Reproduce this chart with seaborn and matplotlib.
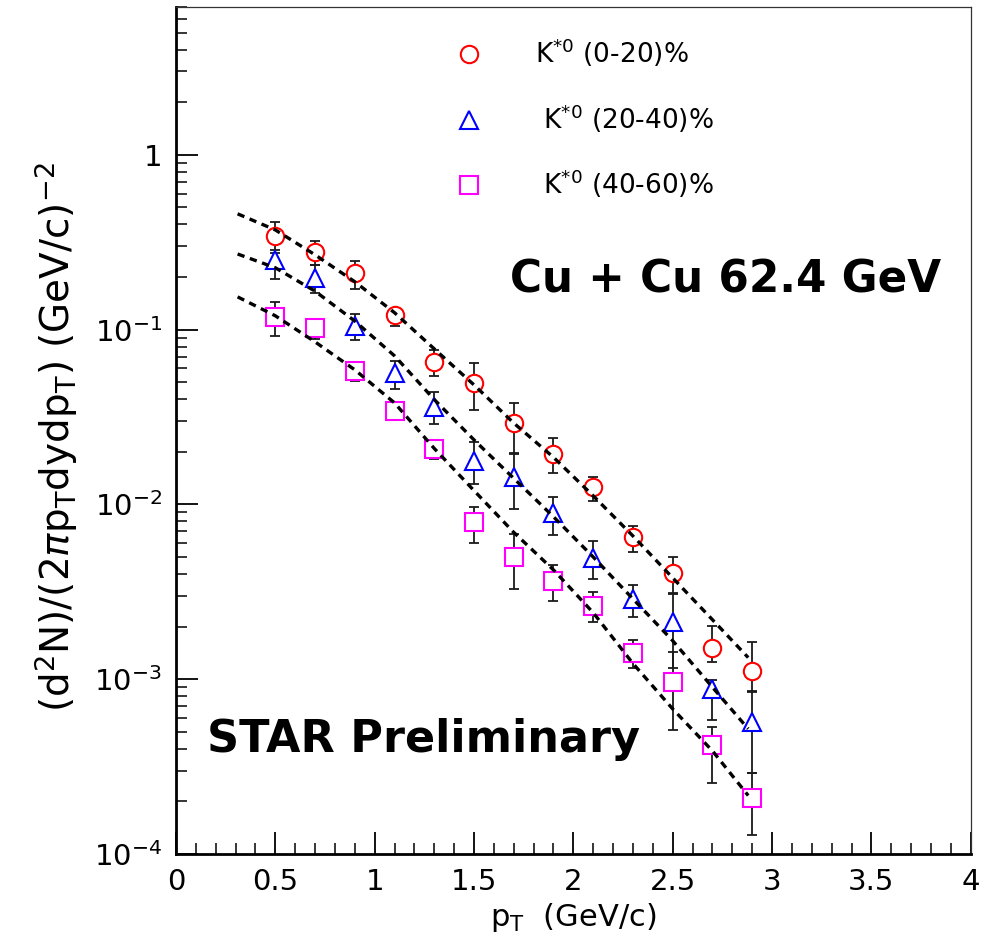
import matplotlib
matplotlib.use("Agg")
import numpy as np
import matplotlib.pyplot as plt
from matplotlib.ticker import FixedLocator, FixedFormatter, MultipleLocator, LogLocator, NullFormatter
import seaborn as sns

sns.set_style("ticks")
plt.rcParams['font.family'] = ['DejaVu Sans']
plt.rcParams['mathtext.fontset'] = 'dejavusans'
for key in ['text.color', 'axes.labelcolor', 'xtick.color', 'ytick.color', 'axes.edgecolor']:
    plt.rcParams[key] = 'black'

# ---- data ----
pt = np.array([0.5, 0.7, 0.9, 1.1, 1.3, 1.5, 1.7, 1.9, 2.1, 2.3, 2.5, 2.7, 2.9])

y_0_20 = np.array([0.344, 0.279, 0.211, 0.121, 0.0654, 0.0496, 0.0293, 0.0195, 0.0126, 0.00652, 0.00406, 0.00151, 0.00111])
hi_0_20 = np.array([0.414, 0.322, 0.247, 0.130, 0.0766, 0.0645, 0.0381, 0.0240, 0.0144, 0.00753, 0.00501, 0.00202, 0.00163])
lo_0_20 = np.array([0.286, 0.235, 0.171, 0.105, 0.0544, 0.0347, 0.0195, 0.0151, 0.0105, 0.00535, 0.00312, 0.00126, 0.000857])

y_20_40 = np.array([0.251, 0.198, 0.105, 0.0566, 0.0361, 0.0177, 0.0144, 0.00894, 0.00494, 0.00288, 0.00213, 0.000879, 0.000569])
hi_20_40 = np.array([0.275, 0.235, 0.123, 0.0663, 0.0440, 0.0228, 0.0197, 0.0110, 0.00618, 0.00346, 0.00307, 0.00099, 0.000845])
lo_20_40 = np.array([0.195, 0.162, 0.0874, 0.0458, 0.0289, 0.0131, 0.00942, 0.00669, 0.00375, 0.00227, 0.00116, 0.000585, 0.000291])

y_40_60 = np.array([0.118, 0.102, 0.0581, 0.0343, 0.0208, 0.00794, 0.00501, 0.00365, 0.00263, 0.00141, 0.000964, 0.00042, 0.000209])
hi_40_60 = np.array([0.144, 0.115, 0.0628, 0.0371, 0.0234, 0.00968, 0.00678, 0.00451, 0.00316, 0.00168, 0.00143, 0.000533, 0.000291])
lo_40_60 = np.array([0.0921, 0.0885, 0.0509, 0.0304, 0.0182, 0.00602, 0.00328, 0.0028, 0.00213, 0.00116, 0.000513, 0.000255, 0.000128])

# dashed fit curves
fit_pt = [0.31, 0.5, 0.7, 0.9, 1.1, 1.3, 1.5, 1.7, 1.9, 2.1, 2.3, 2.5, 2.7, 2.88]
fit_0_20 = [0.460, 0.372, 0.268, 0.188, 0.125, 0.0776, 0.0483, 0.0292, 0.0186, 0.0112, 0.0066, 0.0038, 0.00219, 0.00133]
fit_20_40 = [0.271, 0.226, 0.166, 0.112, 0.0708, 0.0398, 0.0234, 0.0141, 0.0085, 0.0050, 0.00288, 0.00166, 0.00090, 0.00052]
fit_40_60 = [0.154, 0.120, 0.0851, 0.0589, 0.0381, 0.0209, 0.0120, 0.00692, 0.00422, 0.0024, 0.00123, 0.000676, 0.000389, 0.000216]

labels = [r"K$^{*0}$ (0-20)%", r" K$^{*0}$ (20-40)%", r" K$^{*0}$ (40-60)%"]
colors = ["#ff0000", "#0000ff", "#ff00ff"]
markers = ["o", "^", "s"]

ytick_vals = [1e-4, 1e-3, 1e-2, 1e-1, 1]
ytick_labels = [r"10$^{-4}$", r"10$^{-3}$", r"10$^{-2}$", r"10$^{-1}$", "1"]
xtick_vals = [0, 0.5, 1, 1.5, 2, 2.5, 3, 3.5, 4]
xtick_labels = ["0", "0.5", "1", "1.5", "2", "2.5", "3", "3.5", "4"]

# ---- figure ----
fig = plt.figure(figsize=(9.86, 9.43), dpi=100)
ax = fig.add_axes([0.1785, 0.0944, 0.806, 0.898])
ax.set_yscale("log")

series = [
    (y_0_20, lo_0_20, hi_0_20, fit_0_20),
    (y_20_40, lo_20_40, hi_20_40, fit_20_40),
    (y_40_60, lo_40_60, hi_40_60, fit_40_60),
]

for (y, lo, hi, fit), lab, col, mk in zip(series, labels, colors, markers):
    ax.errorbar(pt, y, yerr=[y - lo, hi - y], fmt="none", ecolor="#1a1a1a",
                elinewidth=1.3, capsize=3.5, capthick=1.3, zorder=2)
    sns.lineplot(x=pt, y=y, ax=ax, linestyle="", marker=mk, markersize=12.5,
                 markerfacecolor="white", markeredgecolor=col, markeredgewidth=1.5,
                 color=col, label=lab, zorder=3)
    sns.lineplot(x=fit_pt, y=fit, ax=ax, color="black", linewidth=2.4,
                 linestyle=(0, (2.2, 1.7)), zorder=4)

ax.set_xlim(0, 4)
ax.set_ylim(1e-4, 7)

ax.xaxis.set_major_locator(FixedLocator(xtick_vals))
ax.xaxis.set_major_formatter(FixedFormatter(xtick_labels))
ax.xaxis.set_minor_locator(MultipleLocator(0.1))
ax.yaxis.set_major_locator(FixedLocator(ytick_vals))
ax.yaxis.set_major_formatter(FixedFormatter(ytick_labels))
ax.yaxis.set_minor_locator(LogLocator(base=10, subs=np.arange(2, 10)))
ax.yaxis.set_minor_formatter(NullFormatter())

ax.tick_params(axis="both", which="major", direction="in", length=16, width=1.3,
               labelsize=21, top=False, right=False, color="black")
ax.tick_params(axis="both", which="minor", direction="in", length=8, width=1.1,
               top=False, right=False)
ax.tick_params(axis="x", which="major", pad=10)
ax.tick_params(axis="y", which="major", pad=10)

for side in ["left", "bottom"]:
    ax.spines[side].set_linewidth(2)
for side in ["top", "right"]:
    ax.spines[side].set_linewidth(0.9)
    ax.spines[side].set_color("#333333")

ax.set_xlabel(r"p$_{\mathrm{T}}$  (GeV/c)", fontsize=22)
ax.xaxis.set_label_coords(0.5, -0.055)
ax.set_ylabel(r"(d$^{2}$N)/(2$\pi$p$_{\mathrm{T}}$dydp$_{\mathrm{T}}$) (GeV/c)$^{-2}$", fontsize=28)
ax.yaxis.set_label_coords(-0.121, 0.492)

ax.text(0.42, 0.6635, "Cu + Cu 62.4 GeV", transform=ax.transAxes,
        fontsize=31.5, fontweight="bold", va="baseline", ha="left")
ax.text(0.039, 0.12, "STAR Preliminary", transform=ax.transAxes,
        fontsize=32, fontweight="bold", va="baseline", ha="left")

handles, labs = ax.get_legend_handles_labels()
ax.legend(handles[:3], labs[:3], loc="upper left", bbox_to_anchor=(0.352, 0.965),
          frameon=False, fontsize=19, numpoints=1, handlelength=1.0,
          handletextpad=2.0, labelspacing=1.25, borderpad=0, borderaxespad=0)

fig.savefig("out.png", dpi=100)
